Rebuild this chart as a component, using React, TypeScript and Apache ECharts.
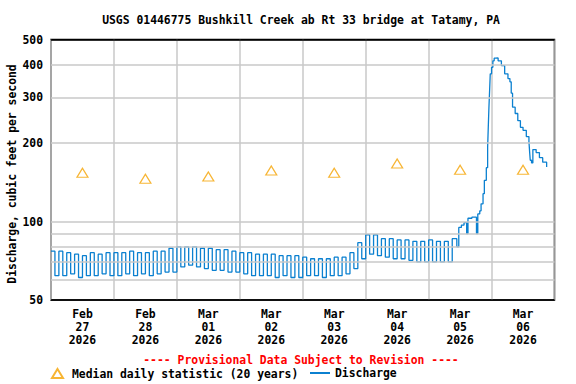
import React, { useEffect, useRef } from 'react';
import * as echarts from 'echarts';

const TITLE = 'USGS 01446775 Bushkill Creek ab Rt 33 bridge at Tatamy, PA';
const Y_NAME = 'Discharge, cubic feet per second';
const PROVISIONAL = '---- Provisional Data Subject to Revision ----';
const MEDIAN_NAME = 'Median daily statistic (20 years)';
const DISCHARGE_NAME = 'Discharge';

const X_START = '2026-02-27T00:00';
const X_END = '2026-03-07T00:00';
const Y_MIN = 50;
const Y_MAX = 500;
const Y_TICK_LABELS = [50, 100, 200, 300, 400, 500];
const Y_GRID_VALUES = [60, 70, 80, 90];
const MONTHS = ['Jan', 'Feb', 'Mar', 'Apr', 'May', 'Jun', 'Jul', 'Aug', 'Sep', 'Oct', 'Nov', 'Dec'];

// Median daily statistic (plotted at noon of each day)
const medianDates = [
  '2026-02-27T12:00', '2026-02-28T12:00', '2026-03-01T12:00', '2026-03-02T12:00',
  '2026-03-03T12:00', '2026-03-04T12:00', '2026-03-05T12:00', '2026-03-06T12:00',
];
const medianValues = [154, 146, 149, 157, 154, 167, 158, 158];

// Discharge during the regulated (cycling) period, one value every 90 minutes
const cycleStart = '2026-02-27T00:00';
const cycleStepMinutes = 90;
const cycleFlow = [
  // Feb 27
  77, 62, 77, 62, 76, 63, 75, 61, 74, 62, 76, 62, 75, 63, 76, 62,
  // Feb 28
  76, 62, 76, 63, 77, 62, 76, 63, 76, 62, 77, 63, 77, 64, 79, 64,
  // Mar 1
  80, 67, 80, 68, 80, 67, 79, 66, 79, 65, 78, 65, 78, 64, 77, 64,
  // Mar 2
  76, 63, 76, 62, 75, 62, 75, 62, 75, 61, 74, 62, 74, 61, 74, 61,
  // Mar 3
  73, 62, 72, 62, 72, 61, 72, 62, 73, 62, 73, 63, 76, 66, 83, 72,
  // Mar 4
  89, 75, 89, 74, 86, 73, 86, 72, 85, 72, 85, 71, 84, 70, 84, 70,
  // Mar 5 (until 09:00)
  85, 70, 84, 70, 84, 70,
];

// Discharge during the storm event
const stormFlow: [string, number][] = [
  ['2026-03-05T09:00', 86], ['2026-03-05T10:45', 80], ['2026-03-05T11:30', 95],
  ['2026-03-05T12:30', 97], ['2026-03-05T13:30', 99], ['2026-03-05T14:30', 90],
  ['2026-03-05T15:00', 103], ['2026-03-05T16:30', 104], ['2026-03-05T18:15', 90],
  ['2026-03-05T18:45', 107], ['2026-03-05T19:30', 110], ['2026-03-05T20:00', 117],
  ['2026-03-05T20:45', 128], ['2026-03-05T21:15', 144], ['2026-03-05T22:00', 161],
  ['2026-03-05T22:30', 193], ['2026-03-05T22:45', 231], ['2026-03-05T23:00', 275],
  ['2026-03-05T23:15', 318], ['2026-03-05T23:30', 369], ['2026-03-06T00:00', 391],
  ['2026-03-06T00:30', 414], ['2026-03-06T01:00', 424], ['2026-03-06T01:30', 425],
  ['2026-03-06T02:30', 414], ['2026-03-06T03:45', 397], ['2026-03-06T05:00', 369],
  ['2026-03-06T06:15', 354], ['2026-03-06T07:00', 344], ['2026-03-06T07:30', 311],
  ['2026-03-06T08:00', 275], ['2026-03-06T09:00', 260], ['2026-03-06T10:00', 244],
  ['2026-03-06T11:00', 230], ['2026-03-06T12:00', 224], ['2026-03-06T13:15', 212],
  ['2026-03-06T14:15', 203], ['2026-03-06T14:30', 186], ['2026-03-06T14:45', 172],
  ['2026-03-06T15:15', 168], ['2026-03-06T15:45', 189], ['2026-03-06T17:00', 184],
  ['2026-03-06T18:15', 176], ['2026-03-06T19:30', 169], ['2026-03-06T21:00', 162],
];

const FONT = '"DejaVu Sans Mono", "Liberation Mono", monospace';
const FS = 11.4;
const GRID_COLOR = '#c8c8c8';
const LINE_COLOR = '#0b80d0';
const MEDIAN_COLOR = '#f5a200';
const DAY = 86400000;

const ms = (s: string) => Date.parse(s + ':00Z');

export default function App() {
  const ref = useRef<HTMLDivElement>(null);

  useEffect(() => {
    if (!ref.current) return;
    const chart = echarts.init(ref.current, undefined, { renderer: 'svg' });

    const t0 = ms(cycleStart);
    const dischargeData: [number, number][] = [
      ...cycleFlow.map((v, i) => [t0 + i * cycleStepMinutes * 60000, v] as [number, number]),
      ...stormFlow.map(([t, v]) => [ms(t), v] as [number, number]),
    ];
    const medianData = medianDates.map((d, i) => [ms(d), medianValues[i]]);

    const labelStyle = {
      fontFamily: FONT,
      fontSize: FS,
      fontWeight: 'bold' as const,
      color: '#000',
    };

    const gridLines = [
      ...Y_GRID_VALUES.map((v) => ({ yAxis: v })),
      ...Y_TICK_LABELS.map((v) => ({
        yAxis: v,
        lineStyle: {
          color: v === Y_MIN || v === Y_MAX ? '#000' : GRID_COLOR,
          width: 1.5,
          type: 'solid' as const,
        },
        label: {
          show: true,
          position: 'start' as const,
          distance: 8,
          formatter: String(v),
          ...labelStyle,
        },
      })),
    ];

    const option: any = {
      animation: false,
      backgroundColor: '#ffffff',
      grid: {
        left: 51,
        right: 21.5,
        top: 39.5,
        bottom: 84,
        show: true,
        borderColor: '#000',
        borderWidth: 1.5,
        backgroundColor: 'transparent',
      },
      xAxis: [
        {
          type: 'value',
          min: ms(X_START),
          max: ms(X_END),
          interval: DAY,
          axisLine: { show: false },
          axisTick: { show: false },
          axisLabel: { show: false },
          splitLine: { show: true, lineStyle: { color: GRID_COLOR, width: 1.5 } },
        },
        {
          type: 'value',
          position: 'bottom',
          min: ms(X_START),
          max: ms(X_END),
          interval: DAY / 2,
          axisLine: { show: false },
          axisTick: { show: false },
          splitLine: { show: false },
          axisLabel: {
            ...labelStyle,
            lineHeight: 13.3,
            margin: 7,
            showMinLabel: true,
            showMaxLabel: true,
            formatter: (val: number) => {
              const d = new Date(val);
              if (d.getUTCHours() !== 12) return '';
              const dd = String(d.getUTCDate()).padStart(2, '0');
              return `${MONTHS[d.getUTCMonth()]}\n${dd}\n${d.getUTCFullYear()}`;
            },
          },
        },
      ],
      yAxis: {
        type: 'log',
        logBase: 10,
        min: Y_MIN,
        max: Y_MAX,
        axisLine: { show: false },
        axisTick: { show: false },
        axisLabel: { show: false },
        splitLine: { show: false },
      },
      legend: [
        {
          left: 46,
          top: 363,
          orient: 'horizontal',
          itemWidth: 11,
          itemHeight: 9,
          selectedMode: false,
          data: [{ name: MEDIAN_NAME, icon: 'triangle' }],
          textStyle: { ...labelStyle, padding: [0, 0, 0, 4] },
        },
        {
          left: 304,
          top: 362.5,
          orient: 'horizontal',
          itemWidth: 20,
          itemHeight: 10,
          selectedMode: false,
          data: [{ name: DISCHARGE_NAME, itemStyle: { opacity: 0 } }],
          textStyle: { ...labelStyle },
        },
      ],
      series: [
        {
          type: 'line',
          name: '__grid',
          data: [],
          silent: true,
          z: 1,
          markLine: {
            silent: true,
            animation: false,
            symbol: ['none', 'none'],
            lineStyle: { color: GRID_COLOR, width: 1.5, type: 'solid' },
            label: { show: false },
            data: gridLines,
          },
        },
        {
          type: 'line',
          name: DISCHARGE_NAME,
          data: dischargeData,
          step: 'end',
          showSymbol: false,
          symbol: 'none',
          lineStyle: { color: LINE_COLOR, width: 1.3 },
          itemStyle: { color: LINE_COLOR },
          z: 2,
        },
        {
          type: 'scatter',
          name: MEDIAN_NAME,
          data: medianData,
          symbol: 'triangle',
          symbolSize: [11, 9],
          itemStyle: { color: '#ffffff', borderColor: MEDIAN_COLOR, borderWidth: 1.2 },
          z: 3,
        },
      ],
      graphic: [
        {
          type: 'text',
          x: 301,
          y: 20.3,
          style: {
            text: TITLE,
            font: `bold ${FS}px ${FONT}`,
            fill: '#000',
            align: 'center',
            verticalAlign: 'middle',
          },
        },
        {
          type: 'text',
          x: 11.7,
          y: 174,
          rotation: Math.PI / 2,
          style: {
            text: Y_NAME,
            font: `bold ${FS}px ${FONT}`,
            fill: '#000',
            align: 'center',
            verticalAlign: 'middle',
          },
        },
        {
          type: 'text',
          x: 301,
          y: 359.5,
          style: {
            text: PROVISIONAL,
            font: `bold ${FS}px ${FONT}`,
            fill: '#ff0000',
            align: 'center',
            verticalAlign: 'middle',
          },
        },
      ],
    };

    chart.setOption(option);
    return () => chart.dispose();
  }, []);

  return (
    <div
      ref={ref}
      style={{ position: 'absolute', left: 0, top: 0, width: 576, height: 384 }}
    />
  );
}
